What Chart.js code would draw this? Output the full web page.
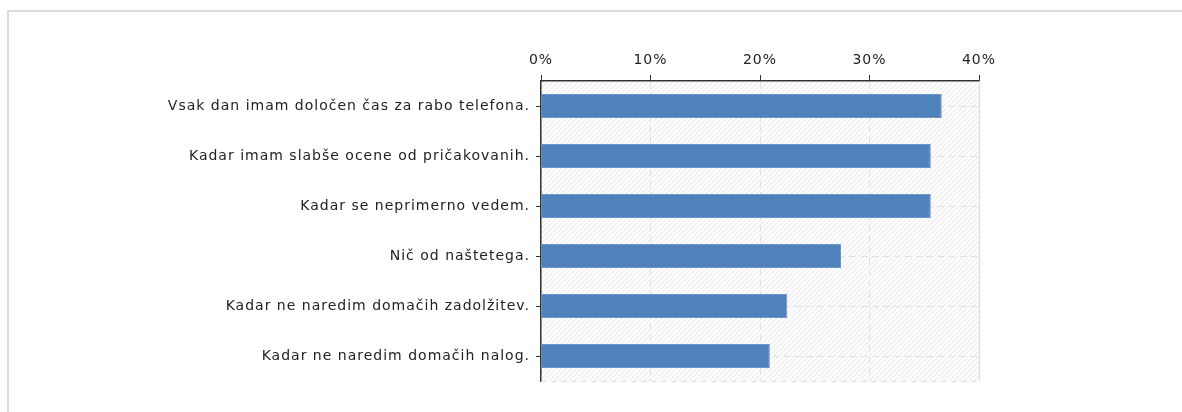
<!DOCTYPE html>
<html>
<head>
<meta charset="utf-8">
<script src="https://cdn.jsdelivr.net/npm/chart.js@4"></script>
<style>
  html, body { margin: 0; padding: 0; background: #fff; }
  #frame { position: absolute; left: 7px; top: 10px; width: 1200px; height: 420px;
           border-top: 2px solid #dcdcdc; border-left: 2px solid #dcdcdc; }
  #wrap { position: absolute; left: 0; top: 0; width: 1182px; height: 412px; }
</style>
</head>
<body>
<div id="frame"></div>
<div id="wrap"><canvas id="chart"></canvas></div>
<script>
var labels = [
  "Vsak dan imam določen čas za rabo telefona.",
  "Kadar imam slabše ocene od pričakovanih.",
  "Kadar se neprimerno vedem.",
  "Nič od naštetega.",
  "Kadar ne naredim domačih zadolžitev.",
  "Kadar ne naredim domačih nalog."
];
var values = [36.6, 35.6, 35.6, 27.4, 22.5, 20.9];
var tickValues = [0, 10, 20, 30, 40];

// diagonal hatch behind the bars
function makeHatch(ctx) {
  var c = document.createElement("canvas");
  c.width = 5; c.height = 5;
  var g = c.getContext("2d");
  g.fillStyle = "#fff";
  g.fillRect(0, 0, 5, 5);
  g.strokeStyle = "#eeeeee";
  g.lineWidth = 1.4;
  g.beginPath();
  g.moveTo(0, 5); g.lineTo(5, 0);
  g.moveTo(-1, 1); g.lineTo(1, -1);
  g.moveTo(4, 6); g.lineTo(6, 4);
  g.stroke();
  return ctx.createPattern(c, "repeat");
}

var bgPlugin = {
  id: "bg",
  beforeLayout: function(chart) { chart.ctx.letterSpacing = "1px"; },
  beforeDraw: function(chart) {
    var a = chart.chartArea, ctx = chart.ctx;
    ctx.letterSpacing = "1px";
    ctx.save();
    ctx.fillStyle = makeHatch(ctx);
    ctx.fillRect(a.left, a.top, a.right - a.left, a.bottom - a.top);
    ctx.restore();
  },
  afterDraw: function(chart) {
    var a = chart.chartArea, ctx = chart.ctx;
    ctx.save();
    ctx.strokeStyle = "#e0e0e0";
    ctx.lineWidth = 1.5;
    ctx.beginPath();
    ctx.moveTo(a.right + 0.5, a.top);
    ctx.lineTo(a.right + 0.5, a.bottom);
    ctx.stroke();
    ctx.lineWidth = 1;
    ctx.setLineDash([6, 4]);
    ctx.beginPath();
    ctx.moveTo(a.left, a.bottom + 0.5);
    ctx.lineTo(a.right, a.bottom + 0.5);
    ctx.stroke();
    ctx.restore();
  }
};

Chart.defaults.font.family = "'DejaVu Sans', Verdana, sans-serif";
Chart.defaults.font.size = 14;
Chart.defaults.color = "#222";

var ctx = document.getElementById("chart");
var chart = new Chart(ctx, {
  type: "bar",
  data: {
    labels: labels,
    datasets: [{
      data: values,
      backgroundColor: "#4f81bd",
      borderColor: "#6d97c9",
      borderWidth: 1,
      categoryPercentage: 1,
      barPercentage: 0.48
    }]
  },
  options: {
    indexAxis: "y",
    responsive: true,
    maintainAspectRatio: false,
    animation: { duration: 0 },
    layout: { padding: { left: 4, right: 203, top: 0, bottom: 31 } },
    plugins: {
      legend: { display: false },
      tooltip: { enabled: false }
    },
    scales: {
      x: {
        position: "top",
        min: 0,
        max: 40,
        afterBuildTicks: function(scale) {
          scale.ticks = tickValues.map(function(v) { return { value: v }; });
        },
        afterFit: function(scale) { scale.height = 81; },
        ticks: {
          padding: 6,
          color: "#222",
          font: { size: 14 },
          callback: function(v) { return v + "%"; }
        },
        grid: {
          color: "#e0e0e0",
          tickColor: "#333",
          tickLength: 6,
          tickBorderDash: []
        },
        border: { display: true, color: "#333", width: 1.5, dash: [7, 4] }
      },
      y: {
        afterFit: function(scale) { scale.width = 537; },
        ticks: {
          padding: 6,
          color: "#222",
          font: { size: 14 }
        },
        grid: {
          offset: false,
          color: "#e0e0e0",
          tickColor: "#333",
          tickLength: 5,
          tickBorderDash: []
        },
        border: { display: true, color: "#333", width: 1.5, dash: [7, 4] }
      }
    }
  },
  plugins: [bgPlugin]
});
</script>
</body>
</html>
